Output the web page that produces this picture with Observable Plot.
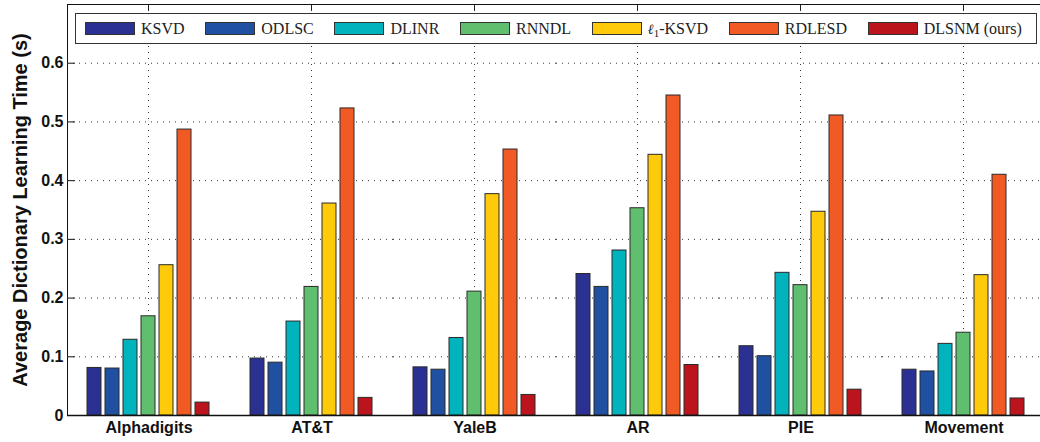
<!DOCTYPE html>
<html><head><meta charset="utf-8">
<script src="https://cdn.jsdelivr.net/npm/d3@7"></script>
<script src="https://cdn.jsdelivr.net/npm/@observablehq/plot@0.6"></script>
<style>
html,body{margin:0;padding:0;background:#fff;overflow:hidden}
#wrap{position:relative;width:1040px;height:442px;overflow:hidden}
#chart{width:1046px}
#chart svg{max-width:none}
#legend{position:absolute;left:75px;top:13px;width:962px;height:31px;border:1px solid #333;background:#fff;display:flex;align-items:center;justify-content:space-between;font-family:"Liberation Serif","DejaVu Serif",serif;font-size:16px;line-height:16px;color:#222;box-sizing:border-box;padding-left:9px;padding-right:14px}
.item{display:flex;align-items:center;white-space:nowrap}
.lab{display:block;height:16px;line-height:16px}
.sw{width:48px;height:11px;border:1px solid #333;margin-right:6px}
.ell{font-family:"DejaVu Serif",serif;font-style:italic;font-size:14px;line-height:0}
.sub{font-size:11px;line-height:0;vertical-align:baseline;position:relative;top:3px}
#ylabel{position:absolute;left:20px;top:210px;transform:translate(-50%,-50%) rotate(-90deg);white-space:nowrap;font-family:'Liberation Sans',Arial,sans-serif;font-weight:bold;font-size:20px;color:#111;line-height:1}
</style></head><body>
<div id="wrap"><div id="chart"></div><div id="legend"></div><div id="ylabel"></div></div>
<script>
const datasets = ["Alphadigits", "AT&T", "YaleB", "AR", "PIE", "Movement"];
const methods = ["KSVD", "ODLSC", "DLINR", "RNNDL", "ℓ1-KSVD", "RDLESD", "DLSNM (ours)"];
const colors = ["#2b3192", "#1f50a2", "#00b3bc", "#60bf6e", "#ffca0a", "#f15a24", "#bc141c"];
const KSVD   = [0.081, 0.097, 0.082, 0.241, 0.118, 0.078];
const ODLSC  = [0.080, 0.090, 0.078, 0.219, 0.101, 0.075];
const DLINR  = [0.129, 0.160, 0.132, 0.281, 0.243, 0.122];
const RNNDL  = [0.169, 0.219, 0.211, 0.353, 0.222, 0.141];
const L1KSVD = [0.256, 0.361, 0.377, 0.444, 0.347, 0.239];
const RDLESD = [0.487, 0.523, 0.453, 0.545, 0.511, 0.410];
const DLSNM  = [0.022, 0.030, 0.035, 0.086, 0.044, 0.029];
const yTicks = [0, 0.1, 0.2, 0.3, 0.4, 0.5, 0.6];
const yMax = 0.7;
const yLabel = "Average Dictionary Learning Time (s)";

const series = [KSVD, ODLSC, DLINR, RNNDL, L1KSVD, RDLESD, DLSNM];
const rows = [];
datasets.forEach((d, i) => methods.forEach((m, j) => rows.push({dataset: d, method: m, value: series[j][i]})));
const centerMethod = methods[3];

const chart = Plot.plot({
  width: 1046, height: 442,
  marginLeft: 65, marginRight: 0, marginTop: 4, marginBottom: 27,
  style: {fontFamily: "'Liberation Sans', Arial, sans-serif", fontSize: "16px", fontWeight: "bold", color: "#111", background: "transparent", maxWidth: "none"},
  fx: {domain: datasets, padding: 0, label: null, axis: "bottom", tickSize: 0, tickPadding: 6},
  x: {domain: methods, paddingInner: 0.2, paddingOuter: 0.969, axis: null},
  y: {domain: [0, yMax], ticks: yTicks, tickFormat: d => d === 0 ? "0" : d.toFixed(1), tickSize: -8, tickPadding: 12,
      label: null, line: true},
  color: {domain: methods, range: colors},
  marks: [
    Plot.ruleY(yTicks.filter(d => d > 0), {stroke: "#333", strokeDasharray: "1,5", strokeWidth: 1}),
    Plot.ruleX(datasets, {fx: d => d, x: () => centerMethod, stroke: "#333", strokeDasharray: "1,5", strokeWidth: 1}),
    Plot.ruleX(datasets, {fx: d => d, x: () => centerMethod, y1: () => yMax, y2: () => yMax * 0.985, stroke: "#222", strokeWidth: 1}),
    Plot.barY(rows, {fx: "dataset", x: "method", y: "value", fill: "method", stroke: "#2a2a2a", strokeWidth: 1}),
    Plot.ruleY([0], {stroke: "#111", strokeWidth: 1.5}),
    Plot.ruleY([yMax], {stroke: "#111", strokeWidth: 1})
  ]
});
document.getElementById("chart").appendChild(chart);
document.getElementById("ylabel").textContent = yLabel;

const legend = document.getElementById("legend");
methods.forEach((m, j) => {
  const item = document.createElement("div");
  item.className = "item";
  const sw = document.createElement("div");
  sw.className = "sw";
  sw.style.background = colors[j];
  const label = document.createElement("span");
  label.className = "lab";
  if (m.startsWith("ℓ1")) {
    label.innerHTML = "<span class=\"ell\">ℓ</span><span class=\"sub\">1</span>" + m.slice(2);
  } else {
    label.textContent = m;
  }
  item.appendChild(sw); item.appendChild(label);
  legend.appendChild(item);
});
</script>
</body></html>
